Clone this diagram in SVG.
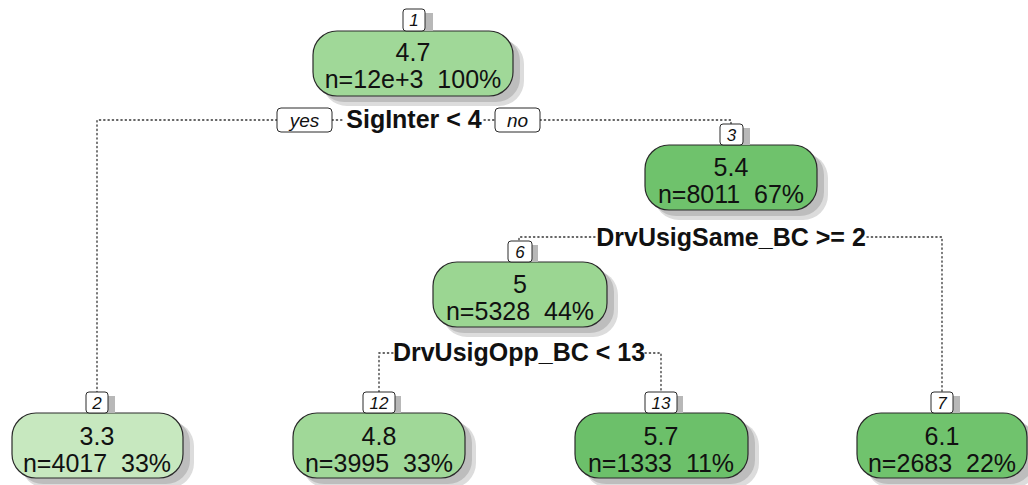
<svg xmlns="http://www.w3.org/2000/svg" width="1028" height="485" viewBox="0 0 1028 485">
<style>
.nb{stroke:#2a2a2a;stroke-width:1.2}
.shd{fill:#bdbdbd}
.shd2{fill:#dcdcdc}
.lb{fill:#fff;stroke:#2a2a2a;stroke-width:1}
.lsh{fill:#b8b8b8}
.nt{font-family:"Liberation Sans",Arial,sans-serif;font-size:25px;fill:#111;text-anchor:middle;white-space:pre}
.lt{font-family:"Liberation Sans",Arial,sans-serif;font-size:17px;font-style:italic;fill:#111;text-anchor:middle}
.st{font-family:"Liberation Sans",Arial,sans-serif;font-size:25px;font-weight:bold;fill:#111;text-anchor:middle}
.yn{font-family:"Liberation Sans",Arial,sans-serif;font-size:19px;font-style:italic;fill:#111;text-anchor:middle}
.cn{fill:none;stroke:#333;stroke-width:1.3;stroke-dasharray:1.3 3;stroke-linecap:round}
</style>
<rect width="1028" height="485" fill="#fff"/>
<g id="connectors">
<path class="cn" d="M277,120 H97 V393"/>
<path class="cn" d="M332,120 H344"/>
<path class="cn" d="M484,120 H495"/>
<path class="cn" d="M540,120 H731 V125"/>
<path class="cn" d="M595,237 H519 V243"/>
<path class="cn" d="M867,237 H942 V393"/>
<path class="cn" d="M393,353 H379 V393"/>
<path class="cn" d="M645,353 H661 V393"/>
</g>
<g id="split1">
<rect class="lb" x="277" y="108" width="55" height="24" rx="4"/>
<text class="yn" x="304.5" y="127">yes</text>
<text class="st" x="414" y="128">SigInter &lt; 4</text>
<rect class="lb" x="495" y="108" width="45" height="24" rx="4"/>
<text class="yn" x="517.5" y="127">no</text>
</g>
<g id="split3"><text class="st" x="731" y="246">DrvUsigSame_BC &gt;= 2</text></g>
<g id="split6"><text class="st" x="519" y="361">DrvUsigOpp_BC &lt; 13</text></g>
<g id="node1">
<rect class="shd2" x="322" y="39" width="202" height="67" rx="25"/>
<rect class="shd" x="320" y="37" width="200" height="65" rx="24"/>
<rect class="nb" x="313" y="31" width="200" height="65" rx="24" fill="#a0d898"/>
<rect class="lsh" x="409" y="13" width="24" height="18"/>
<rect class="lb" x="403" y="9" width="22" height="22" rx="3"/>
<text class="lt" x="414" y="26">1</text>
<text class="nt" x="413" y="61">4.7</text>
<text class="nt" x="413" y="88">n=12e+3  100%</text>
</g>
<g id="node3">
<rect class="shd2" x="654" y="153" width="174" height="67" rx="25"/>
<rect class="shd" x="652" y="151" width="172" height="65" rx="24"/>
<rect class="nb" x="645" y="145" width="172" height="65" rx="24" fill="#6fc26c"/>
<rect class="lsh" x="726" y="128" width="24" height="17"/>
<rect class="lb" x="720" y="124" width="23" height="21" rx="3"/>
<text class="lt" x="731.5" y="141">3</text>
<text class="nt" x="731" y="176">5.4</text>
<text class="nt" x="731" y="203">n=8011  67%</text>
</g>
<g id="node6">
<rect class="shd2" x="442" y="270" width="176" height="67" rx="25"/>
<rect class="shd" x="440" y="268" width="174" height="65" rx="24"/>
<rect class="nb" x="433" y="262" width="174" height="65" rx="24" fill="#9bd692"/>
<rect class="lsh" x="514" y="245" width="24" height="17"/>
<rect class="lb" x="508" y="241" width="24" height="21" rx="3"/>
<text class="lt" x="520" y="258">6</text>
<text class="nt" x="520" y="293">5</text>
<text class="nt" x="520" y="320">n=5328  44%</text>
</g>
<g id="node2">
<rect class="shd2" x="21" y="421" width="173" height="67" rx="25"/>
<rect class="shd" x="19" y="419" width="171" height="65" rx="24"/>
<rect class="nb" x="12" y="413" width="171" height="65" rx="24" fill="#c7e8bf"/>
<rect class="lsh" x="92" y="396" width="23" height="17"/>
<rect class="lb" x="86" y="392" width="22" height="21" rx="3"/>
<text class="lt" x="97" y="409">2</text>
<text class="nt" x="97" y="445">3.3</text>
<text class="nt" x="97" y="472">n=4017  33%</text>
</g>
<g id="node12">
<rect class="shd2" x="302" y="421" width="174" height="67" rx="25"/>
<rect class="shd" x="300" y="419" width="172" height="65" rx="24"/>
<rect class="nb" x="293" y="413" width="172" height="65" rx="24" fill="#a0d898"/>
<rect class="lsh" x="370" y="396" width="31" height="17"/>
<rect class="lb" x="363" y="392" width="32" height="21" rx="3"/>
<text class="lt" x="379" y="409">12</text>
<text class="nt" x="379" y="445">4.8</text>
<text class="nt" x="379" y="472">n=3995  33%</text>
</g>
<g id="node13">
<rect class="shd2" x="584" y="421" width="175" height="67" rx="25"/>
<rect class="shd" x="582" y="419" width="173" height="65" rx="24"/>
<rect class="nb" x="575" y="413" width="173" height="65" rx="24" fill="#6cc06a"/>
<rect class="lsh" x="652" y="396" width="31" height="17"/>
<rect class="lb" x="645" y="392" width="32" height="21" rx="3"/>
<text class="lt" x="661" y="409">13</text>
<text class="nt" x="661" y="445">5.7</text>
<text class="nt" x="661" y="472">n=1333  11%</text>
</g>
<g id="node7">
<rect class="shd2" x="866" y="421" width="172" height="67" rx="25"/>
<rect class="shd" x="864" y="419" width="170" height="65" rx="24"/>
<rect class="nb" x="857" y="413" width="170" height="65" rx="24" fill="#70c36d"/>
<rect class="lsh" x="937" y="396" width="23" height="17"/>
<rect class="lb" x="931" y="392" width="22" height="21" rx="3"/>
<text class="lt" x="942" y="409">7</text>
<text class="nt" x="942" y="445">6.1</text>
<text class="nt" x="942" y="472">n=2683  22%</text>
</g>
</svg>
